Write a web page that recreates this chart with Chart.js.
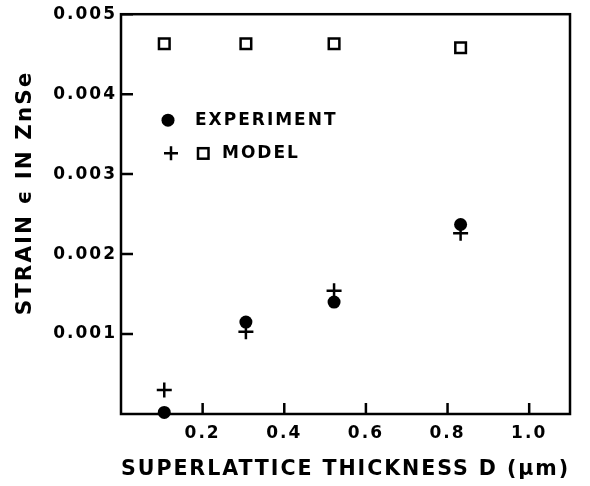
<!DOCTYPE html>
<html>
<head>
<meta charset="utf-8">
<script src="https://cdn.jsdelivr.net/npm/chart.js@4.4.0/dist/chart.umd.min.js"></script>
<style>
  html, body { margin: 0; padding: 0; background: #fff; }
</style>
</head>
<body>
<canvas id="strain-chart" width="590" height="486"></canvas>
<script>
(function () {
    "use strict";

    // values
    var thickness = [0.106, 0.306, 0.522, 0.832];
    var experiment = [0.00002, 0.00115, 0.00140, 0.00237];
    var modelPlus = [0.00030, 0.00103, 0.00154, 0.00226];
    var modelSquare = [0.00463, 0.00463, 0.00463, 0.00458];
    var xTicks = [0.2, 0.4, 0.6, 0.8, 1.0];
    var yTicks = [0.001, 0.002, 0.003, 0.004, 0.005];

    var FONT = '"DejaVu Sans", "Liberation Sans", sans-serif';
    var INK = "#000";

    function points(ys) {
        return thickness.map(function (x, i) { return {x: x, y: ys[i]}; });
    }

    // box, inward ticks, in-plot legend and the y title
    var decor = {
        id: "decor",
        beforeUpdate: function (chart) { chart.ctx.letterSpacing = "2px"; },
        beforeDraw: function (chart) { chart.ctx.letterSpacing = "2px"; },
        afterDraw: function (chart) {
            var ctx = chart.ctx;
            var a = chart.chartArea;
            var xs = chart.scales.x, ys = chart.scales.y;
            ctx.save();
            ctx.strokeStyle = INK;
            ctx.fillStyle = INK;
            ctx.lineWidth = 2.5;
            ctx.strokeRect(a.left, a.top, a.right - a.left, a.bottom - a.top);

            ctx.beginPath();
            xTicks.forEach(function (v) {
                var px = xs.getPixelForValue(v);
                ctx.moveTo(px, a.bottom);
                ctx.lineTo(px, a.bottom - 11);
            });
            yTicks.forEach(function (v) {
                var py = ys.getPixelForValue(v);
                ctx.moveTo(a.left, py);
                ctx.lineTo(a.left + 12, py);
            });
            ctx.stroke();

            // legend
            var lx = a.left, ly = a.top;
            ctx.beginPath();
            ctx.arc(lx + 47, ly + 106, 6.5, 0, Math.PI * 2);
            ctx.fill();

            ctx.beginPath();
            ctx.moveTo(lx + 43, ly + 139);
            ctx.lineTo(lx + 57, ly + 139);
            ctx.moveTo(lx + 50, ly + 132);
            ctx.lineTo(lx + 50, ly + 146);
            ctx.stroke();
            ctx.strokeRect(lx + 77, ly + 134, 10.5, 10.5);

            ctx.font = "bold 17px " + FONT;
            ctx.textAlign = "left";
            ctx.textBaseline = "middle";
            ctx.fillText("EXPERIMENT", lx + 74, ly + 106);
            ctx.fillText("MODEL", lx + 101, ly + 139);

            // y title
            ctx.font = "bold 21.5px " + FONT;
            ctx.translate(25, 193);
            ctx.rotate(-Math.PI / 2);
            ctx.textAlign = "center";
            ctx.fillText("STRAIN \u03F5 IN ZnSe", 0, 0);
            ctx.restore();
        }
    };

    var ctx1 = document.getElementById("strain-chart").getContext("2d");
    var myChart1 = new Chart(ctx1, {
        type: "scatter",
        data: {
            datasets: [{
                label: "Experiment",
                data: points(experiment),
                pointStyle: "circle",
                pointRadius: 6.5,
                pointBackgroundColor: INK,
                pointBorderWidth: 0,
                clip: false
            }, {
                label: "Model",
                data: points(modelPlus),
                pointStyle: "cross",
                pointRadius: 7.5,
                pointBorderColor: INK,
                pointBorderWidth: 2.5,
                clip: false
            }, {
                label: "Model",
                data: points(modelSquare),
                pointStyle: "rect",
                pointRadius: 7.5,
                pointBackgroundColor: "#fff",
                pointBorderColor: INK,
                pointBorderWidth: 2.5,
                clip: false
            }]
        },
        options: {
            responsive: false,
            animation: false,
            layout: {padding: {left: 0, right: 20, top: 13, bottom: 0}},
            plugins: {legend: {display: false}, tooltip: {enabled: false}},
            scales: {
                x: {
                    type: "linear",
                    min: 0,
                    max: 1.1,
                    grid: {display: false, drawTicks: false},
                    border: {display: false},
                    afterBuildTicks: function (scale) {
                        scale.ticks = xTicks.map(function (v) { return {value: v}; });
                    },
                    afterFit: function (scale) { scale.height = 72; },
                    ticks: {
                        padding: 9,
                        color: INK,
                        font: {family: FONT, size: 17, weight: "bold"},
                        callback: function (v) { return Number(v).toFixed(1); }
                    },
                    title: {
                        display: true,
                        text: "SUPERLATTICE THICKNESS D (\u00B5m)",
                        color: INK,
                        font: {family: FONT, size: 21.5, weight: "bold"},
                        padding: {top: 4, bottom: 4}
                    }
                },
                y: {
                    type: "linear",
                    min: 0,
                    max: 0.005,
                    grid: {display: false, drawTicks: false},
                    border: {display: false},
                    afterBuildTicks: function (scale) {
                        scale.ticks = yTicks.map(function (v) { return {value: v}; });
                    },
                    afterFit: function (scale) { scale.width = 121; },
                    ticks: {
                        padding: 4,
                        color: INK,
                        font: {family: FONT, size: 17, weight: "bold"},
                        callback: function (v) { return Number(v).toFixed(3); }
                    }
                }
            }
        },
        plugins: [decor]
    });
})();
</script>
</body>
</html>
